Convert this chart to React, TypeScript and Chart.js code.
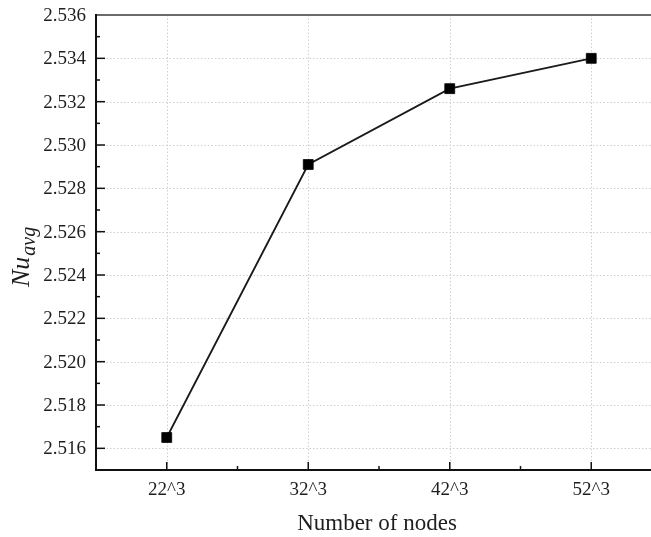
import React, { useEffect, useRef } from "react";
import { Chart, registerables } from "chart.js";

Chart.register(...registerables);

const CATEGORIES = ["22^3", "32^3", "42^3", "52^3"];
const NU_AVG = [2.5165, 2.5291, 2.5326, 2.534];
const Y_TICKS = [2.516, 2.518, 2.52, 2.522, 2.524, 2.526, 2.528, 2.53, 2.532, 2.534, 2.536];
const Y_MIN = 2.515;
const Y_MAX = 2.536;
const X_TITLE = "Number of nodes";
const Y_TITLE_MAIN = "Nu";
const Y_TITLE_SUB = "avg";

const FONT = '"Liberation Serif", "Times New Roman", serif';
const TEXT_COLOR = "#1e1e1e";

const framePlugin = {
  id: "framePlugin",
  beforeDatasetsDraw(chart: any) {
    const { ctx, chartArea } = chart;
    const xs = chart.scales.x;
    const ys = chart.scales.y;
    const { left, right, top, bottom } = chartArea;
    ctx.save();
    // dotted grid
    ctx.strokeStyle = "#cfcfcf";
    ctx.lineWidth = 1;
    ctx.setLineDash([1.5, 2]);
    Y_TICKS.forEach((v) => {
      const y = Math.round(ys.getPixelForValue(v)) + 0.5;
      if (y <= top + 2) return;
      ctx.beginPath();
      ctx.moveTo(left, y);
      ctx.lineTo(right, y);
      ctx.stroke();
    });
    CATEGORIES.forEach((_, i) => {
      const x = Math.round(xs.getPixelForValue(i)) + 0.5;
      ctx.beginPath();
      ctx.moveTo(x, top);
      ctx.lineTo(x, bottom);
      ctx.stroke();
    });
    ctx.setLineDash([]);
    // ticks (inward)
    ctx.strokeStyle = "#111";
    ctx.lineWidth = 1.5;
    Y_TICKS.forEach((v) => {
      const y = ys.getPixelForValue(v);
      ctx.beginPath();
      ctx.moveTo(left, y);
      ctx.lineTo(left + 9, y);
      ctx.stroke();
      const mid = v - 0.001;
      if (mid > Y_MIN) {
        const ym = ys.getPixelForValue(mid);
        ctx.beginPath();
        ctx.moveTo(left, ym);
        ctx.lineTo(left + 4, ym);
        ctx.stroke();
      }
    });
    CATEGORIES.forEach((_, i) => {
      const x = xs.getPixelForValue(i);
      ctx.beginPath();
      ctx.moveTo(x, bottom);
      ctx.lineTo(x, bottom - 8);
      ctx.stroke();
      if (i < CATEGORIES.length - 1) {
        const xm = xs.getPixelForValue(i + 0.5);
        ctx.beginPath();
        ctx.moveTo(xm, bottom);
        ctx.lineTo(xm, bottom - 4);
        ctx.stroke();
      }
    });
    // frame
    ctx.strokeStyle = "#6a6a6a";
    ctx.lineWidth = 2;
    ctx.beginPath();
    ctx.moveTo(left, top);
    ctx.lineTo(right, top);
    ctx.stroke();
    ctx.strokeStyle = "#111";
    ctx.lineWidth = 2;
    ctx.beginPath();
    ctx.moveTo(left, top - 1);
    ctx.lineTo(left, bottom);
    ctx.lineTo(right, bottom);
    ctx.stroke();
    ctx.restore();
  },
  afterDraw(chart: any) {
    const { ctx, chartArea } = chart;
    const xs = chart.scales.x;
    const ys = chart.scales.y;
    ctx.save();
    ctx.fillStyle = TEXT_COLOR;
    // tick labels
    ctx.font = `19px ${FONT}`;
    ctx.textAlign = "right";
    ctx.textBaseline = "middle";
    Y_TICKS.forEach((v) => {
      ctx.fillText(v.toFixed(3), chartArea.left - 10, ys.getPixelForValue(v) + 1);
    });
    ctx.textAlign = "center";
    ctx.textBaseline = "alphabetic";
    CATEGORIES.forEach((c, i) => {
      ctx.fillText(c, xs.getPixelForValue(i), chartArea.bottom + 25);
    });
    // x title
    ctx.font = `23px ${FONT}`;
    ctx.fillText(X_TITLE, 377, 530);
    // y title rotated
    ctx.translate(29, 287);
    ctx.rotate(-Math.PI / 2);
    ctx.textAlign = "left";
    ctx.font = `italic 26px ${FONT}`;
    ctx.fillText(Y_TITLE_MAIN, 0, 0);
    const w = ctx.measureText(Y_TITLE_MAIN).width;
    ctx.font = `italic 20px ${FONT}`;
    ctx.fillText(Y_TITLE_SUB, w + 1, 6);
    ctx.restore();
  },
};

export default function App() {
  const ref = useRef<HTMLCanvasElement | null>(null);
  useEffect(() => {
    if (!ref.current) return;
    const chart = new Chart(ref.current, {
      type: "line",
      data: {
        datasets: [
          {
            data: NU_AVG.map((v, i) => ({ x: i, y: v })),
            borderColor: "#1a1a1a",
            borderWidth: 1.8,
            pointStyle: "rect",
            pointRadius: 7,
            pointBackgroundColor: "#000",
            pointBorderColor: "#000",
            pointBorderWidth: 0.8,
            fill: false,
            tension: 0,
          },
        ],
      },
      options: {
        animation: false,
        responsive: false,
        events: [],
        layout: { autoPadding: false, padding: { top: 15, right: 0, left: 0, bottom: 0 } },
        plugins: { legend: { display: false }, tooltip: { enabled: false }, title: { display: false } },
        scales: {
          x: {
            type: "linear",
            min: -0.5,
            max: -0.5 + 555 / 141.5,
            grid: { display: false, drawTicks: false },
            border: { display: false },
            afterBuildTicks: (scale: any) => {
              scale.ticks = CATEGORIES.map((_, i) => ({ value: i }));
            },
            afterFit: (scale: any) => {
              scale.height = 67;
            },
            ticks: { display: false },
          },
          y: {
            type: "linear",
            min: Y_MIN,
            max: Y_MAX,
            grid: { display: false, drawTicks: false },
            border: { display: false },
            afterBuildTicks: (scale: any) => {
              scale.ticks = Y_TICKS.map((v) => ({ value: v }));
            },
            afterFit: (scale: any) => {
              scale.width = 96;
            },
            ticks: { display: false },
          },
        },
      },
      plugins: [framePlugin],
    });
    return () => chart.destroy();
  }, []);
  return (
    <div style={{ position: "fixed", left: 0, top: 0, width: 651, height: 537, background: "#fff", overflow: "hidden" }}>
      <canvas ref={ref} width={651} height={537} style={{ display: "block" }} />
    </div>
  );
}
